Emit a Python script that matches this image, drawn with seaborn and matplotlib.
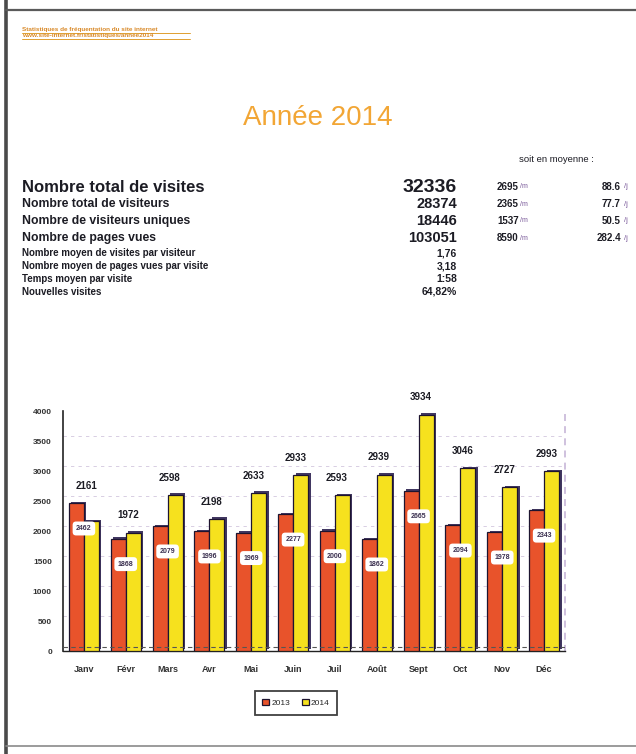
import numpy as np
import pandas as pd
import matplotlib
matplotlib.use("Agg")
import matplotlib.pyplot as plt
import matplotlib.patheffects as pe
from matplotlib.lines import Line2D
import seaborn as sns

# ── Data ─────────────────────────────────────────────────────
months = ["Janv", "Févr", "Mars", "Avr", "Mai", "Juin",
          "Juil", "Août", "Sept", "Oct", "Nov", "Déc"]
visits_2013 = [2462, 1868, 2079, 1996, 1969, 2277, 2000, 1862, 2665, 2094, 1978, 2343]
visits_2014 = [2161, 1972, 2598, 2198, 2633, 2933, 2593, 2939, 3934, 3046, 2727, 2993]
years = ["2013", "2014"]

stat_labels = ["Nombre total de visites", "Nombre total de visiteurs",
               "Nombre de visiteurs uniques", "Nombre de pages vues",
               "Nombre moyen de visites par visiteur",
               "Nombre moyen de pages vues par visite",
               "Temps moyen par visite", "Nouvelles visites"]
stat_values = ["32336", "28374", "18446", "103051", "1,76", "3,18", "1:58", "64,82%"]
per_month = ["2695", "2365", "1537", "8590"]
per_day = ["88.6", "77.7", "50.5", "282.4"]

yticks = [0, 500, 1000, 1500, 2000, 2500, 3000, 3500, 4000]

COLORS = {"2013": "#e8532b", "2014": "#f6e11e"}
TITLE_COLOR = "#f2a635"
TEXT = "#1c1c24"

# ── Style ────────────────────────────────────────────────────
sns.set_theme(style="white")
plt.rcParams["font.family"] = ["Liberation Sans", "DejaVu Sans"]

W, H = 636, 754
fig = plt.figure(figsize=(W / 100, H / 100), dpi=100)
fig.patch.set_facecolor("white")


def fx(px):
    return px / W


def fy(py):
    return 1 - py / H


# ── Page decoration (scan borders) ───────────────────────────
fig.add_artist(Line2D([fx(6), fx(6)], [0, 1], transform=fig.transFigure,
                      color="#4a4a4a", lw=2.6))
fig.add_artist(Line2D([fx(6), 1], [fy(10), fy(10)], transform=fig.transFigure,
                      color="#5a5a5a", lw=1.6))
fig.add_artist(Line2D([fx(6), 1], [fy(746), fy(746)], transform=fig.transFigure,
                      color="#8a8a8a", lw=1.2))

# small header link
fig.text(fx(22), fy(30), "Statistiques de fréquentation du site internet",
         fontsize=4.6, fontweight="bold", color="#d98a2a", va="center", ha="left")
fig.text(fx(22), fy(36), "www.site-internet.fr/statistiques/annee2014",
         fontsize=4.6, fontweight="bold", color="#d98a2a", va="center", ha="left")
for yy in (33, 39):
    fig.add_artist(Line2D([fx(22), fx(190)], [fy(yy), fy(yy)],
                          transform=fig.transFigure, color="#e0a030", lw=0.7))

# ── Title ────────────────────────────────────────────────────
fig.text(fx(318), fy(118), "Année 2014", fontsize=20, color=TITLE_COLOR,
         ha="center", va="center")

# ── Statistics table ─────────────────────────────────────────
fig.text(fx(519), fy(160), "soit en moyenne :", fontsize=6.8, color=TEXT,
         ha="left", va="center")

row_y = [187, 204, 221, 238, 253, 266, 279, 292]
for i, (lab, val) in enumerate(zip(stat_labels, stat_values)):
    if i == 0:
        fs_l, fs_v = 12, 14
    elif i < 4:
        fs_l, fs_v = 8.8, 10.5
    else:
        fs_l, fs_v = 7, 7.5
    fig.text(fx(22), fy(row_y[i]), lab, fontsize=fs_l, fontweight="bold",
             color=TEXT, ha="left", va="center")
    fig.text(fx(457), fy(row_y[i]), val, fontsize=fs_v, fontweight="bold",
             color=TEXT, ha="right", va="center")

for i, (m, d) in enumerate(zip(per_month, per_day)):
    fig.text(fx(497), fy(row_y[i]), m, fontsize=7, fontweight="bold",
             color=TEXT, ha="left", va="center")
    fig.text(fx(520), fy(row_y[i]), "/m", fontsize=5, color="#7a5a9a",
             ha="left", va="center")
    fig.text(fx(621), fy(row_y[i]), d, fontsize=7, fontweight="bold",
             color=TEXT, ha="right", va="center")
    fig.text(fx(624), fy(row_y[i]), "/j", fontsize=5.5, color="#7a5a9a",
             ha="left", va="center")

# ── Bar chart ────────────────────────────────────────────────
df = pd.DataFrame({
    "mois": months * 2,
    "visites": visits_2013 + visits_2014,
    "annee": [years[0]] * len(months) + [years[1]] * len(months),
})

ax = fig.add_axes([fx(63), 1 - 651 / H, fx(565) - fx(63), (651 - 411) / H])
ax.set_facecolor("none")

sns.barplot(data=df, x="mois", y="visites", hue="annee", hue_order=years,
            palette=COLORS, width=0.72, saturation=1, edgecolor="#1d1430",
            linewidth=0.9, ax=ax, zorder=3)

shadow = [pe.SimplePatchShadow(offset=(1.8, 1.2), shadow_rgbFace="#2c2150",
                               alpha=0.9), pe.Normal()]
for p in ax.patches:
    p.set_path_effects(shadow)

ax.set_ylim(0, 4000)
ax.set_xlim(-0.5, len(months) - 0.5)
ax.set_yticks(yticks)
ax.set_yticklabels([str(v) for v in yticks], fontsize=6, fontweight="bold",
                   color="#333333")
ax.set_xticks(range(len(months)))
ax.set_xticklabels(months, fontsize=6.5, fontweight="bold", color="#333333")
ax.set_xticks(np.arange(len(months) + 1) - 0.5, minor=True)
ax.tick_params(axis="x", which="major", length=0, pad=10)
ax.tick_params(axis="x", which="minor", length=5, width=1, color="#222222",
               direction="out")
ax.tick_params(axis="y", length=5, width=1, color="#222222", direction="out", pad=3)
ax.set_xlabel("")
ax.set_ylabel("")

for y in yticks[1:]:
    ax.axhline(y + 90, color="#d2c6de", lw=0.6, ls=(0, (4, 5)), zorder=1)
ax.axhline(60, color="#555555", lw=0.8, ls=(0, (4, 3)), zorder=4)

ax.spines["top"].set_visible(False)
ax.spines["right"].set_color("#c9b9d9")
ax.spines["right"].set_linestyle((0, (3, 4)))
ax.spines["left"].set_color("#222222")
ax.spines["left"].set_linewidth(1.2)
ax.spines["bottom"].set_color("#222222")
ax.spines["bottom"].set_linewidth(1.0)

# value labels
for i, (v13, v14) in enumerate(zip(visits_2013, visits_2014)):
    ax.annotate(str(v14), (i + 0.05, max(v13, v14)), xytext=(0, 9),
                textcoords="offset points", ha="center", va="bottom",
                fontsize=7, fontweight="bold", color=TEXT, annotation_clip=False)
    ax.text(i, v13 - 420, str(v13), ha="center", va="center", fontsize=5,
            fontweight="bold", color="#3b3050", zorder=6,
            bbox=dict(boxstyle="round,pad=0.5", fc="white", ec="none"))

# legend
handles, labels = ax.get_legend_handles_labels()
if ax.legend_ is not None:
    ax.legend_.remove()
leg = fig.legend(handles, labels, loc="center", ncol=2,
                 bbox_to_anchor=(fx(296), fy(703)), fontsize=6,
                 handlelength=0.8, handleheight=0.8, handletextpad=0.3,
                 columnspacing=1.4, borderpad=0.9, frameon=True, fancybox=False)
leg.get_frame().set_edgecolor("#111111")
leg.get_frame().set_linewidth(1.3)
for h in leg.legend_handles:
    h.set_path_effects([])

fig.savefig("out.png", dpi=100)
